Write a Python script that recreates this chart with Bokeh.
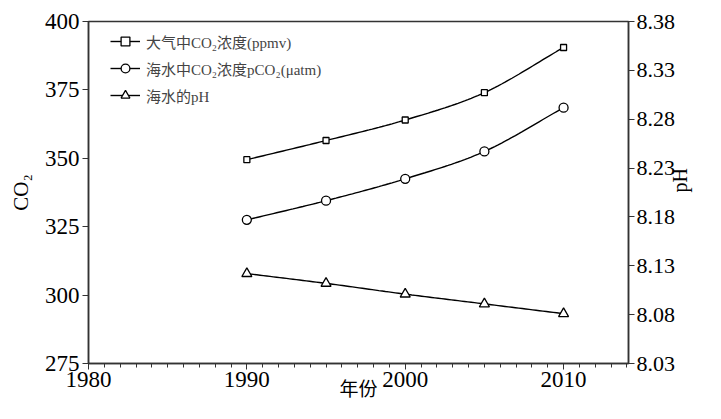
import numpy as np
from bokeh.plotting import figure
from bokeh.models import (Range1d, LinearAxis, FixedTicker, NumeralTickFormatter,
                          Legend, LegendItem)
from bokeh.embed import file_html
from bokeh.resources import INLINE

# ---- data ----
years = [1990, 1995, 2000, 2005, 2010]
co2_atm = [349.5, 356.5, 364.0, 374.0, 390.5]        # 大气中CO2浓度(ppmv)
co2_sea = [327.5, 334.5, 342.5, 352.5, 368.5]        # 海水中CO2浓度pCO2(μatm)
ph_sea = [8.122, 8.112, 8.101, 8.091, 8.081]         # 海水的pH

x_ticks = [1980, 1990, 2000, 2010]
y_ticks = [275, 300, 325, 350, 375, 400]
ph_ticks = [8.03, 8.08, 8.13, 8.18, 8.23, 8.28, 8.33, 8.38]

labels = ["大气中CO₂浓度(ppmv)", "海水中CO₂浓度pCO₂(μatm)", "海水的pH"]

SERIF = "Liberation Serif"
MIXED = "'Liberation Serif', 'Noto Sans CJK SC'"
CJK = "Noto Sans CJK SC"


def smooth(xs, ys, n=24):
    """Catmull-Rom curve through the given points."""
    xs = np.asarray(xs, float)
    ys = np.asarray(ys, float)
    px = np.concatenate([[2 * xs[0] - xs[1]], xs, [2 * xs[-1] - xs[-2]]])
    py = np.concatenate([[2 * ys[0] - ys[1]], ys, [2 * ys[-1] - ys[-2]]])
    ox, oy = [], []
    for i in range(1, len(px) - 2):
        t = np.linspace(0, 1, n, endpoint=(i == len(px) - 3))
        t2, t3 = t * t, t * t * t
        for arr, out in ((px, ox), (py, oy)):
            p0, p1, p2, p3 = arr[i - 1], arr[i], arr[i + 1], arr[i + 2]
            out.extend(0.5 * ((2 * p1) + (-p0 + p2) * t +
                              (2 * p0 - 5 * p1 + 4 * p2 - p3) * t2 +
                              (-p0 + 3 * p1 - 3 * p2 + p3) * t3))
    return ox, oy


p = figure(width=705, height=403, output_backend="svg", toolbar_location=None,
           x_range=Range1d(1980, 2014.1), y_range=Range1d(275, 400),
           min_border_left=88, min_border_right=72, min_border_top=21,
           min_border_bottom=40)
p.extra_y_ranges = {"ph": Range1d(8.03, 8.38)}
p.xgrid.visible = False
p.ygrid.visible = False
p.outline_line_color = "#333333"
p.outline_line_width = 1.5
p.background_fill_color = "white"
p.border_fill_color = "white"

# x axis
xa = p.xaxis[0]
xa.ticker = FixedTicker(ticks=x_ticks, minor_ticks=list(range(1980, 2015)))
xa.axis_label = "年份"
xa.axis_label_text_font = CJK
xa.axis_label_text_font_style = "normal"
xa.axis_label_text_font_size = "19px"
xa.axis_label_standoff = -16

# left axis
ya = p.yaxis[0]
ya.ticker = FixedTicker(ticks=y_ticks)
ya.axis_label = "CO₂"
ya.axis_label_text_font = SERIF
ya.axis_label_text_font_style = "normal"
ya.axis_label_text_font_size = "21px"
ya.axis_label_standoff = 9

# right axis
ra = LinearAxis(y_range_name="ph", ticker=FixedTicker(ticks=ph_ticks),
                formatter=NumeralTickFormatter(format="0.00"))
ra.axis_label = "pH"
ra.axis_label_text_font = SERIF
ra.axis_label_text_font_style = "normal"
ra.axis_label_text_font_size = "20px"
ra.axis_label_standoff = 2
if "axis_label_orientation" in ra.properties():
    ra.axis_label_orientation = np.pi / 2
p.add_layout(ra, "right")

for ax in (xa, ya, ra):
    ax.major_label_text_font = SERIF
    ax.major_label_text_font_size = "23px"
    ax.major_label_text_color = "black"
    ax.axis_label_text_color = "black"
    ax.axis_line_color = "#333333"
    ax.axis_line_width = 1.5
    ax.major_tick_line_color = "#333333"
    ax.major_tick_in = 0
    ax.major_tick_out = 6
    ax.minor_tick_line_color = "#333333"
    ax.minor_tick_in = 0
    ax.minor_tick_out = 4
    ax.major_label_standoff = 3
ya.minor_tick_line_color = None
ra.minor_tick_line_color = None
xa.major_label_standoff = 2
ra.major_label_standoff = 2
ra.major_label_text_font_size = "22px"

# series
sx, sy = smooth(years, co2_atm)
l1 = p.line(sx, sy, line_color="black", line_width=1.4)
m1 = p.scatter(years, co2_atm, marker="square", size=6, fill_color="white",
               line_color="black", line_width=1.3)
sx, sy = smooth(years, co2_sea)
l2 = p.line(sx, sy, line_color="black", line_width=1.4)
m2 = p.scatter(years, co2_sea, marker="circle", size=9, fill_color="white",
               line_color="black", line_width=1.3)
sx, sy = smooth(years, ph_sea)
l3 = p.line(sx, sy, line_color="black", line_width=1.4, y_range_name="ph")
m3 = p.scatter(years, ph_sea, marker="triangle", size=10, fill_color="white",
               line_color="black", line_width=1.3, y_range_name="ph")

legend = Legend(items=[LegendItem(label=labels[0], renderers=[l1, m1]),
                       LegendItem(label=labels[1], renderers=[l2, m2]),
                       LegendItem(label=labels[2], renderers=[l3, m3])],
                location=(22, 257))
legend.border_line_color = None
legend.background_fill_alpha = 0
legend.label_text_font = MIXED
legend.label_text_font_size = "15px"
legend.glyph_width = 30
legend.glyph_height = 22
legend.label_height = 22
legend.label_standoff = 6
legend.spacing = 5
legend.margin = 0
legend.padding = 0
p.add_layout(legend)

open("out.html", "w").write(file_html(p, INLINE))
